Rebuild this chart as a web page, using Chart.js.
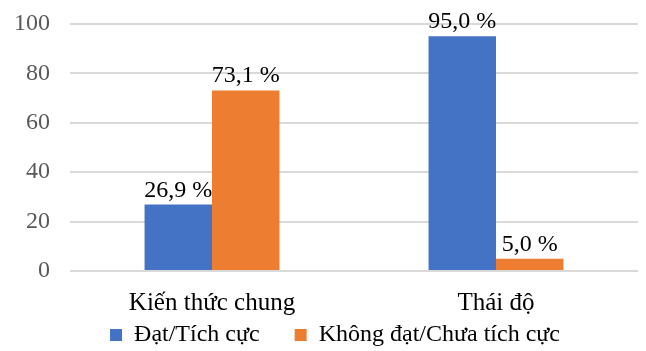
<!DOCTYPE html>
<html>
  <head>
    <meta charset="utf-8" />
    <title>Biểu đồ</title>
    <style>
      html, body { margin: 0; padding: 0; background: #fff; }
      #wrap { width: 646px; height: 351px; }
    </style>
  </head>
  <body>
    <div id="wrap"><canvas id="chart"></canvas></div>

    <script src="https://cdn.jsdelivr.net/npm/chart.js"></script>
    <script>
      // Dữ liệu
      var categories = ["Kiến thức chung", "Thái độ"];
      var seriesNames = ["Đạt/Tích cực", "Không đạt/Chưa tích cực"];
      var datValues = [26.9, 95.0];
      var khongDatValues = [73.1, 5.0];
      var yTicks = [0, 20, 40, 60, 80, 100];

      var serif = "'Liberation Serif', 'Times New Roman', serif";

      // Nhãn giá trị trên cột
      var valueLabels = {
        id: "valueLabels",
        afterDatasetsDraw: function (chart) {
          var ctx = chart.ctx;
          ctx.save();
          ctx.font = "24px " + serif;
          ctx.fillStyle = "#000";
          ctx.textAlign = "center";
          ctx.textBaseline = "alphabetic";
          chart.data.datasets.forEach(function (ds, i) {
            chart.getDatasetMeta(i).data.forEach(function (bar, j) {
              var txt = ds.data[j].toFixed(1).replace(".", ",") + " %";
              ctx.fillText(txt, bar.x, bar.y - 8);
            });
          });
          ctx.restore();
        },
      };

      // Chú giải: khoảng cách ngang lớn, chiều cao gọn, đặt sát đáy
      var legendFix = {
        id: "legendFix",
        beforeLayout: function (chart) {
          var lg = chart.legend;
          if (lg && !lg._patched) {
            var fit = lg.fit;
            lg.fit = function () {
              fit.call(this);
              this.height = 30;
            };
            lg._patched = true;
          }
        },
        afterLayout: function (chart) {
          var lg = chart.legend;
          if (lg) {
            lg.top = lg.bottom - 63;
            lg.left += 9;
            lg.right += 9;
          }
        },
      };

      new Chart(document.getElementById("chart"), {
        type: "bar",
        data: {
          labels: categories,
          datasets: [
            {
              label: seriesNames[0],
              data: datValues,
              backgroundColor: "#4472C4",
            },
            {
              label: seriesNames[1],
              data: khongDatValues,
              backgroundColor: "#ED7D31",
            },
          ],
        },
        options: {
          responsive: true,
          maintainAspectRatio: false,
          animation: false,
          layout: { padding: { left: 14, right: 8, top: 24, bottom: 0 } },
          datasets: {
            bar: { categoryPercentage: 0.475, barPercentage: 1 },
          },
          scales: {
            x: {
              grid: { display: false },
              border: { display: false },
              afterFit: function (axis) {
                axis.height = 50;
              },
              ticks: {
                color: "#000",
                padding: 9,
                font: { family: serif, size: 25 },
              },
            },
            y: {
              min: 0,
              max: 100,
              afterBuildTicks: function (axis) {
                axis.ticks = yTicks.map(function (v) {
                  return { value: v };
                });
              },
              afterFit: function (axis) {
                axis.width = 56;
                axis.paddingTop = 0;
                axis.paddingBottom = 0;
              },
              grid: { color: "#d9d9d9", lineWidth: 2, drawTicks: false },
              border: { display: false },
              ticks: {
                color: "#595959",
                padding: 20,
                font: { family: serif, size: 24 },
              },
            },
          },
          plugins: {
            legend: {
              position: "bottom",
              labels: {
                boxWidth: 12,
                boxHeight: 12,
                padding: 35,
                color: "#000",
                font: { family: serif, size: 24 },
              },
            },
            tooltip: { enabled: false },
          },
        },
        plugins: [valueLabels, legendFix],
      });
    </script>
  </body>
</html>
